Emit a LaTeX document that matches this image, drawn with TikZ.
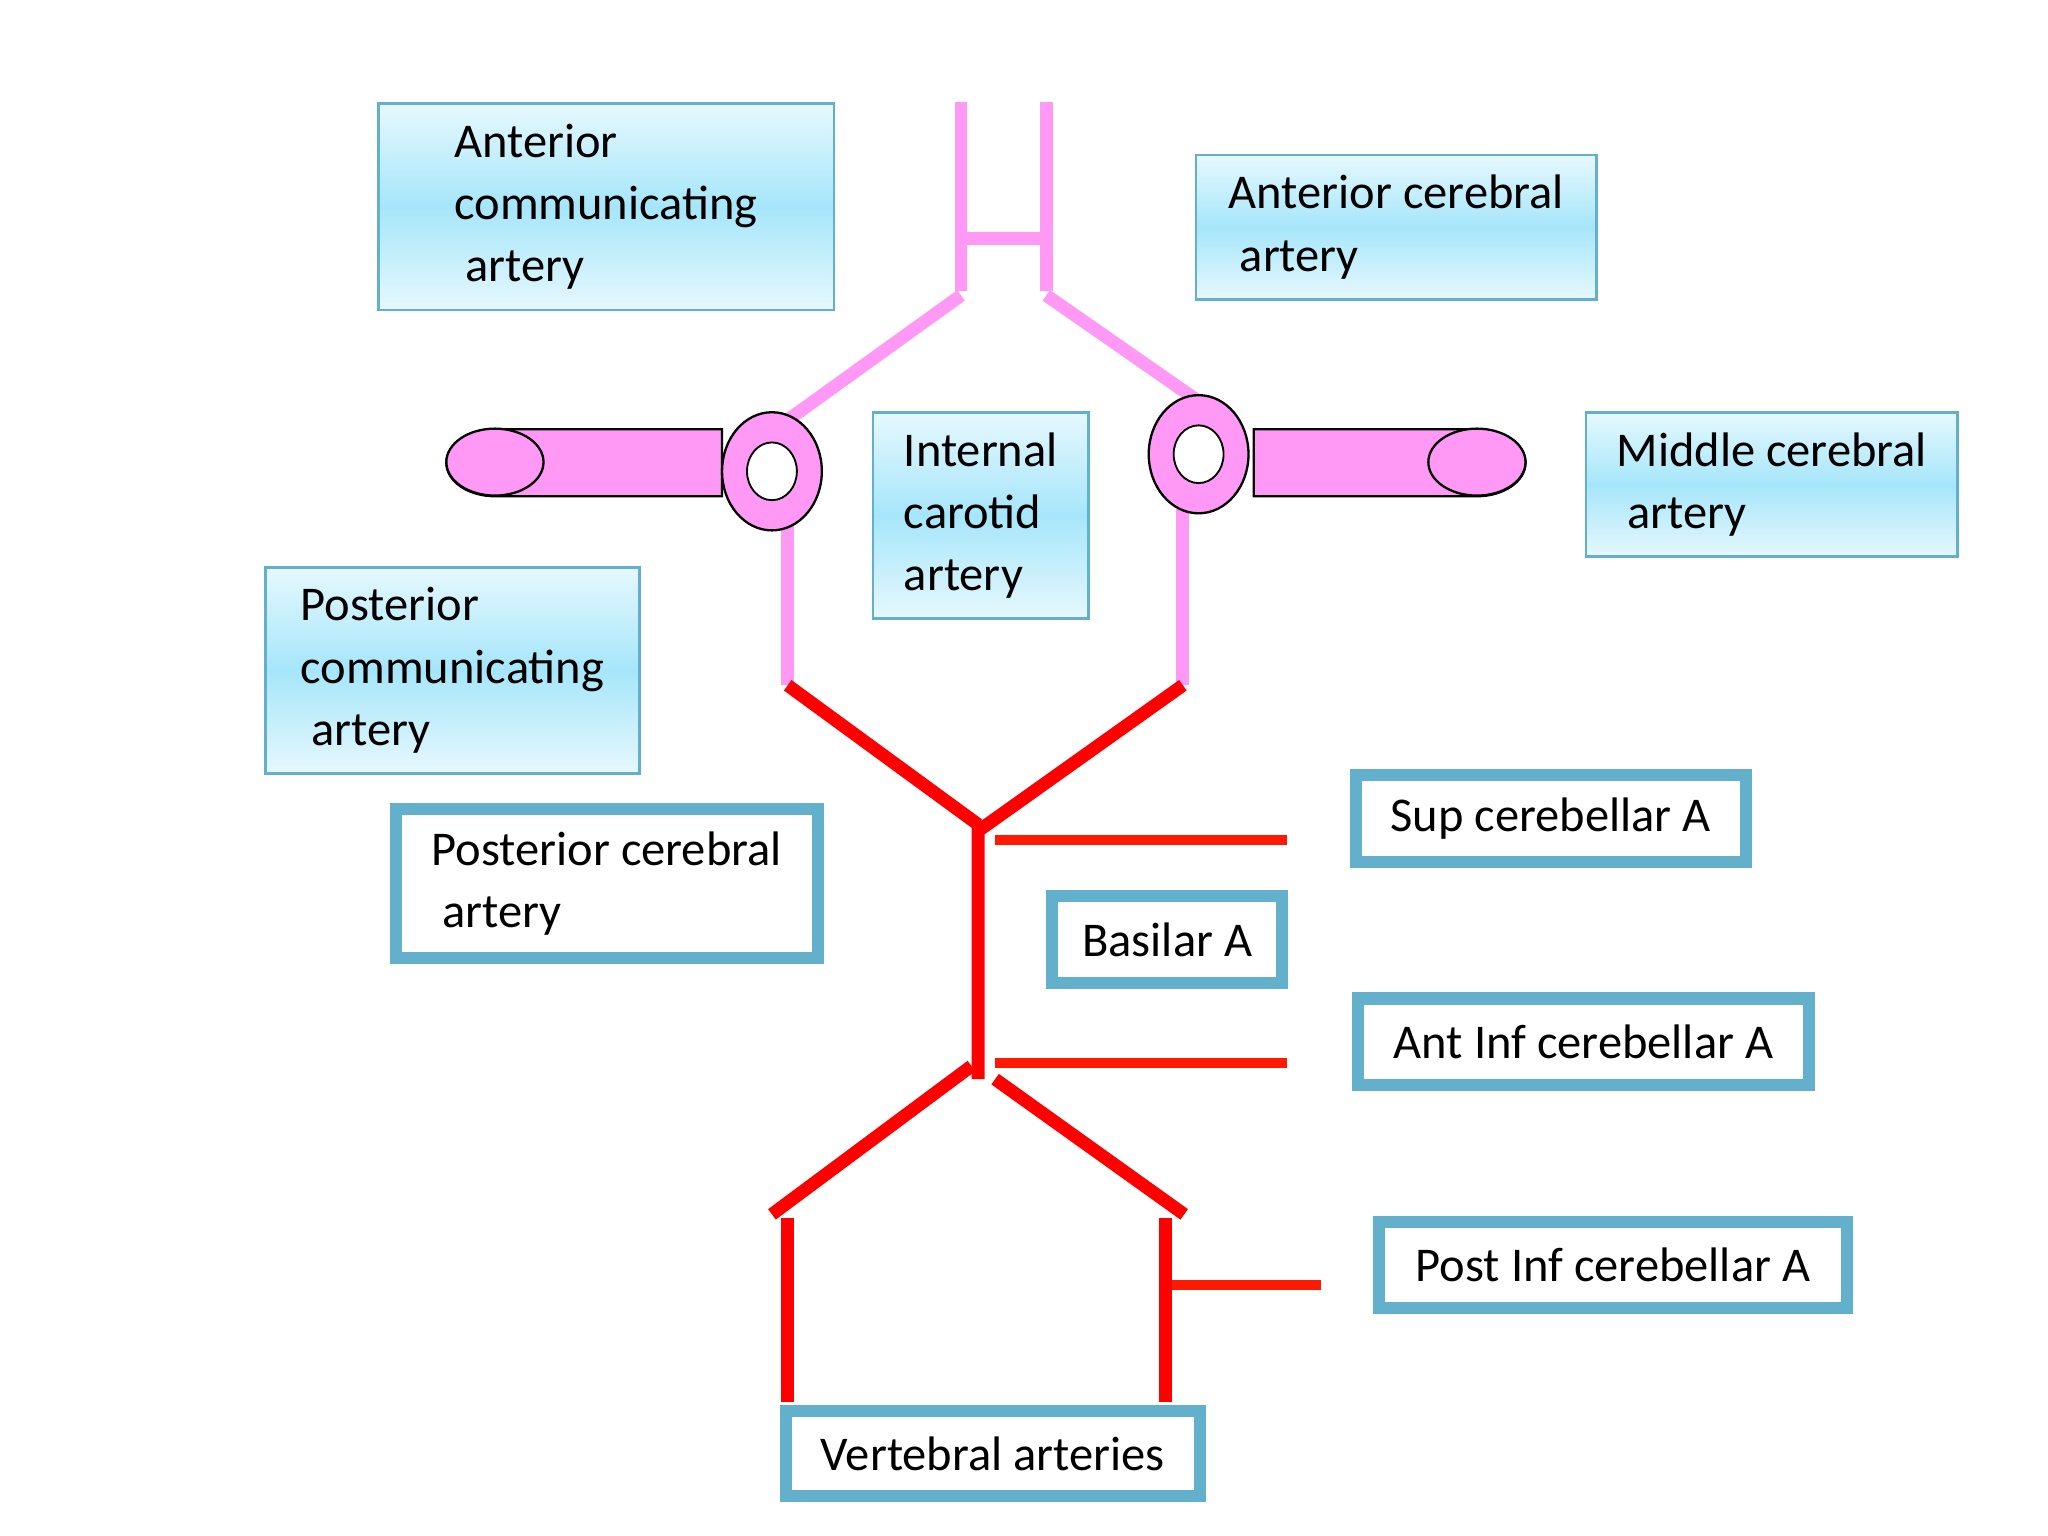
\documentclass[tikz,border=0pt]{standalone}
\usepackage{fontspec}
\setmainfont{Carlito}
\definecolor{pink}{HTML}{FF99F5}
\definecolor{bmid}{HTML}{A6E6FA}
\definecolor{bend}{HTML}{E6F8FE}
\definecolor{bdr}{HTML}{62B0CC}
\begin{document}
\begin{tikzpicture}[x=0.01cm,y=-0.01cm,
  lb/.style={draw=bdr,line width=0.6pt,top color=bend,bottom color=bend,middle color=bmid,
    anchor=north west,align=left,inner xsep=0.16cm,inner ysep=0.1cm,font=\fontsize{10.5}{13.5}\selectfont},
  wb/.style={draw=bdr,line width=2.6pt,fill=white,anchor=north west,align=left,
    inner xsep=0.16cm,inner ysep=0.1cm,font=\fontsize{10.5}{13.5}\selectfont},
  pk/.style={draw=pink,line width=2.8pt},
  rd/.style={draw=red,line width=2.8pt},
  og/.style={draw=red!80!orange,line width=2.2pt},
  cyl/.style={fill=pink,draw=black,line width=0.5pt}]
\useasboundingbox (0,0) rectangle (1560,1170);
% pink vessels
\draw[pk] (732,78) -- (732,222) (797,78) -- (797,222) (732,182) -- (797,182);
\draw[pk] (732,225) -- (600,320) (797,225) -- (912,305);
\draw[pk] (600,400) -- (600,522) (901,388) -- (901,522);
% cylinders
\draw[cyl] (377,327) -- (550,327) -- (550,378) -- (377,378) arc (90:270:37 and 25.5) -- cycle;
\draw[cyl] (377,352) ellipse (37 and 25.5);
\draw[cyl] (955,327) -- (1125,327) arc (-90:90:37 and 25.5) -- (955,378) -- cycle;
\draw[cyl] (1125,352) ellipse (37 and 25.5);
\draw[cyl] (588,359) ellipse (38 and 45);
\draw[fill=white] (588,359) ellipse (19 and 22);
\draw[cyl] (913,346) ellipse (38 and 45);
\draw[fill=white] (913,346) ellipse (19 and 22);
% red vessels
\draw[rd] (600,522) -- (745,628) (901,522) -- (745,633) (745,628) -- (745,822);
\draw[og] (758,640) -- (980,640) (758,810) -- (980,810) (890,979) -- (1006,979);
\draw[rd] (740,812) -- (588,925) (758,822) -- (902,925);
\draw[rd] (600,928) -- (600,1068) (888,928) -- (888,1068);
% boxes
\node[lb,minimum width=3.47cm,minimum height=1.57cm] (acom) at (287,78) {Anterior\\communicating\\\ artery};
\node[lb,minimum width=3.05cm,minimum height=1.1cm] (aca) at (910,117) {Anterior cerebral\\\ artery};
\node[lb,minimum width=1.64cm,minimum height=1.57cm] (ica) at (664,313) {Internal\\carotid\\artery};
\node[lb,minimum width=2.83cm,minimum height=1.1cm] (mca) at (1207,313) {Middle cerebral\\\ artery};
\node[lb,minimum width=2.85cm,minimum height=1.57cm] (pcom) at (201,431) {Posterior\\communicating\\\ artery};
\node[wb,minimum width=3.21cm,minimum height=1.13cm] (pca) at (297,612) {Posterior cerebral\\\ artery};
\node[wb,minimum width=2.97cm,minimum height=0.66cm] (sca) at (1028,586) {Sup cerebellar A};
\node[wb,minimum width=1.75cm,minimum height=0.66cm] (bas) at (797,678) {Basilar A};
\node[wb,minimum width=3.43cm,minimum height=0.66cm] (aica) at (1030,756) {Ant Inf cerebellar A};
\node[wb,minimum width=3.56cm,minimum height=0.66cm] (pica) at (1046,926) {Post Inf cerebellar A};
\node[wb,minimum width=3.15cm,minimum height=0.65cm] (vert) at (594,1070) {Vertebral arteries};
\end{tikzpicture}
\end{document}
